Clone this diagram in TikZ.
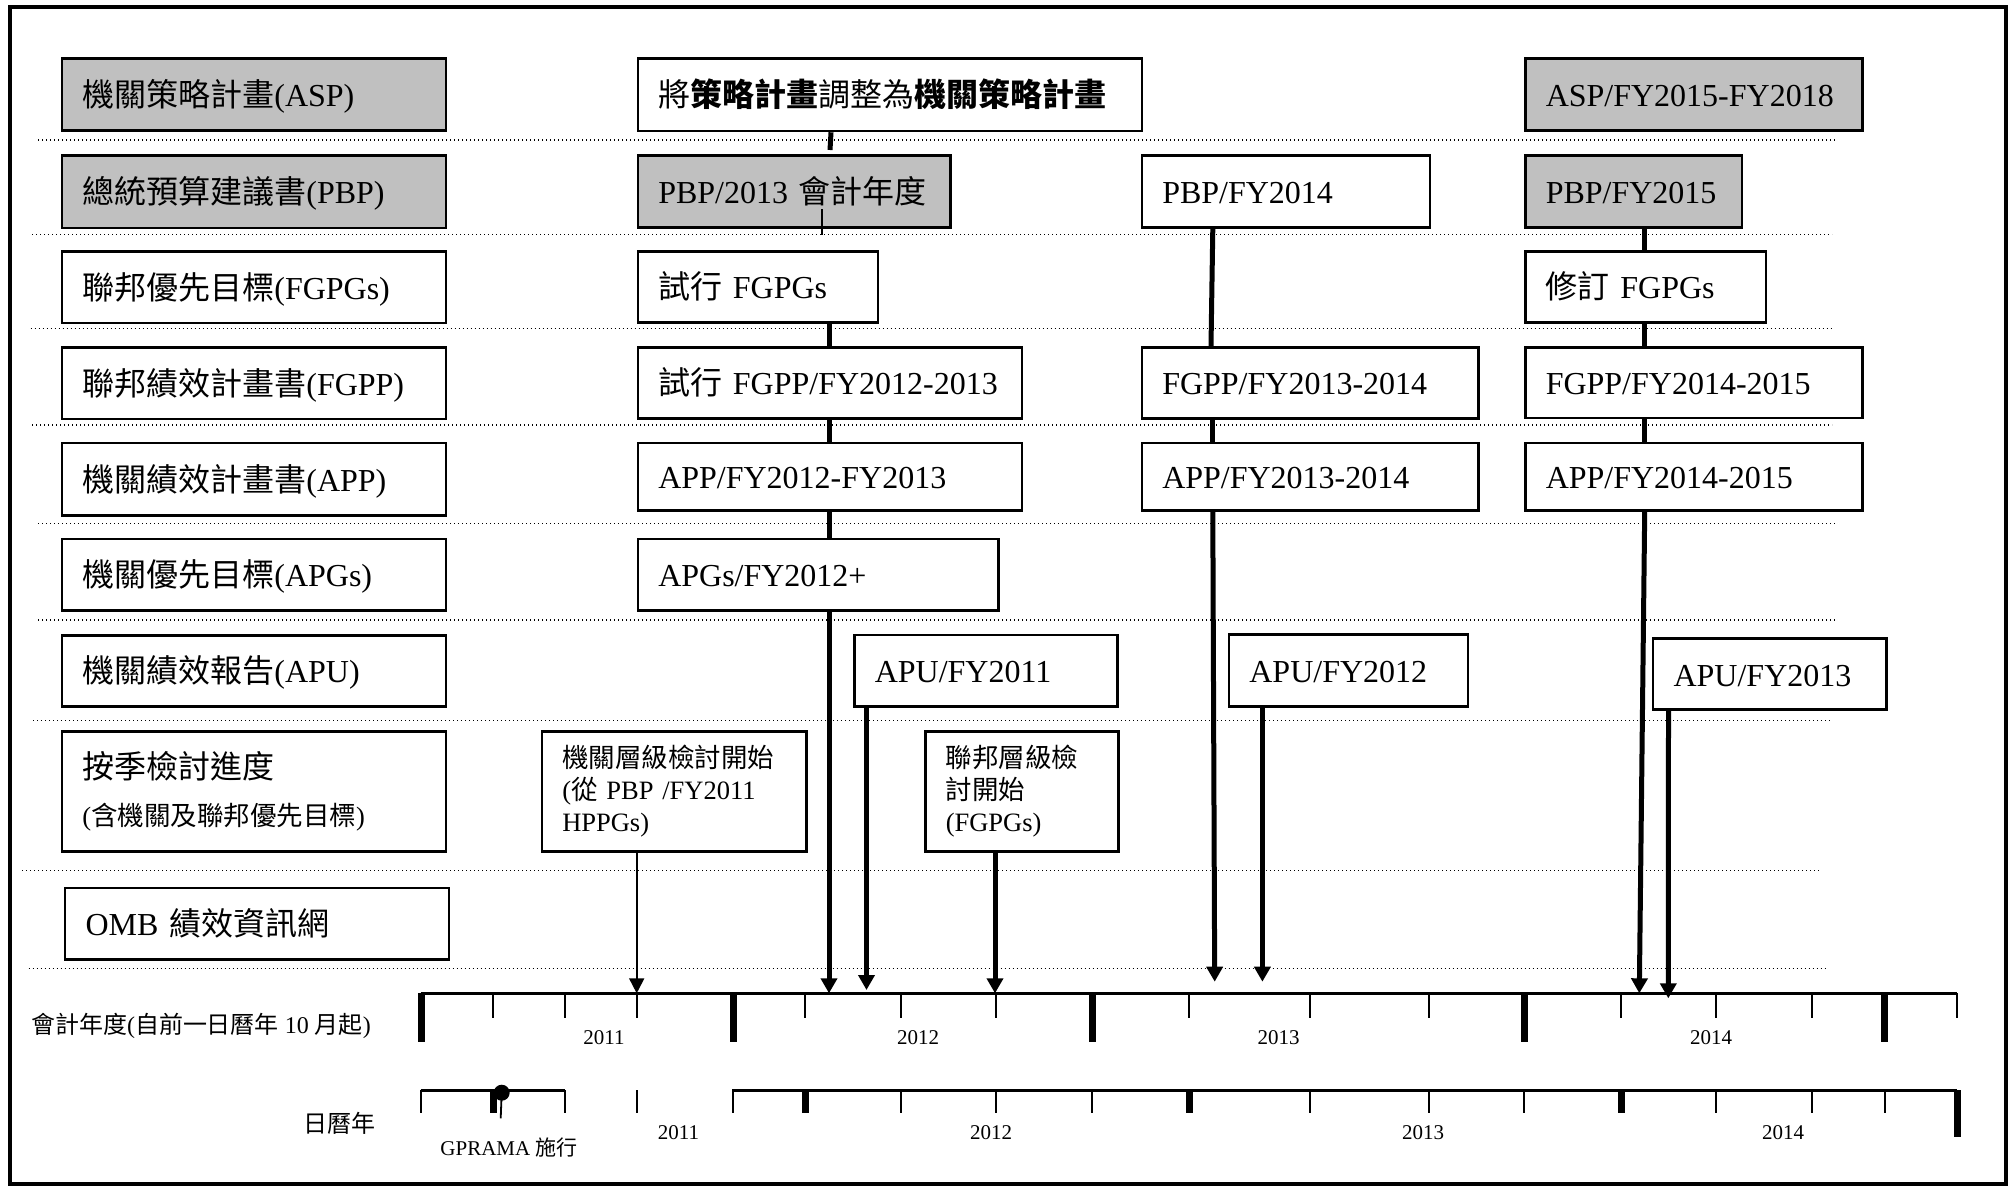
\documentclass[tikz,border=0pt]{standalone}
\usepackage{fontspec}
\setmainfont{Liberation Serif}
\newfontfamily\cjk{Noto Sans CJK TC}
\usetikzlibrary{arrows.meta}
\definecolor{boxgray}{RGB}{192,192,192}
\newcommand\szL{\fontsize{32}{38}\selectfont}
\newcommand\szM{\fontsize{26.5}{32}\selectfont}
\newcommand\szS{\fontsize{21}{25}\selectfont}
\newcommand\szA{\fontsize{24}{28}\selectfont}

\begin{document}
\begin{tikzpicture}[x=1pt,y=-1pt,
  cell/.style={draw, line width=2.5pt, anchor=north west, inner xsep=20.5pt,
    inner ysep=0pt, align=left, font=\szL},
  oneline/.style={text height=30pt, text depth=6pt},
  grayfill/.style={fill=boxgray},
  rowsep/.style={line width=1.3pt, dash pattern=on 1.3pt off 2.7pt},
  link/.style={line width=5pt},
  flow/.style={line width=5pt, -{Triangle[width=16pt,length=15pt]}},
  thinflow/.style={line width=1.8pt, -{Triangle[width=15pt,length=15pt]}},
  tline/.style={line width=3pt},
  tickmin/.style={line width=2pt},
  tickmaj/.style={line width=7pt},
  yearlbl/.style={font=\szS},
]
\useasboundingbox (0,0) rectangle (2011,1187);

% outer frame
\draw[line width=4pt] (10,7) rectangle (2006,1183.5);

% row separators
\draw[rowsep] (38,140) -- (1837,140);
\draw[rowsep] (32,234.3) -- (1832,234.3);
\draw[rowsep] (30.6,328.3) -- (1832,328.3);
\draw[rowsep] (32,425) -- (1832,425);
\draw[rowsep] (38,523.3) -- (1837,523.3);
\draw[rowsep] (38,620) -- (1837,620);
\draw[rowsep] (33,720.7) -- (1832,720.7);
\draw[rowsep] (22,870.7) -- (1820,870.7);
\draw[rowsep] (28.7,968.3) -- (1827,968.3);

% row headings
\node[cell,grayfill,oneline,minimum width=384pt,minimum height=72pt,text width=343pt] (lasp) at (60.6,57.3) {{\cjk 機關策略計畫}(ASP)};
\node[cell,grayfill,oneline,minimum width=384pt,minimum height=72.7pt,text width=343pt] (lpbp) at (60.6,154) {{\cjk 總統預算建議書}(PBP)};
\node[cell,oneline,minimum width=384pt,minimum height=71.7pt,text width=343pt] (lfgpg) at (60.6,250) {{\cjk 聯邦優先目標}(FGPGs)};
\node[cell,oneline,minimum width=384pt,minimum height=71.5pt,text width=343pt] (lfgpp) at (60.6,346) {{\cjk 聯邦績效計畫書}(FGPP)};
\node[cell,oneline,minimum width=384pt,minimum height=72.3pt,text width=343pt] (lapp) at (60.6,441.7) {{\cjk 機關績效計畫書}(APP)};
\node[cell,oneline,minimum width=384pt,minimum height=71.6pt,text width=343pt] (lapg) at (60.6,537.7) {{\cjk 機關優先目標}(APGs)};
\node[cell,oneline,minimum width=384pt,minimum height=71pt,text width=343pt] (lapu) at (60.6,634) {{\cjk 機關績效報告}(APU)};
\node[cell,minimum width=384pt,minimum height=120pt,text width=343pt] (lqtr) at (60.6,730) {{\cjk 按季檢討進度}\\[9pt]{\szM ({\cjk 含機關及聯邦優先目標})}};
\node[cell,oneline,minimum width=384pt,minimum height=71.6pt,text width=343pt] (lomb) at (63.8,886.7) {OMB {\cjk 績效資訊網}};

% 2012 column
\node[cell,oneline,minimum width=504pt,minimum height=72.5pt,text width=463pt] (masp) at (636.5,57.3) {{\cjk 將{\bfseries 策略計畫}調整為{\bfseries 機關策略計畫}}};
\node[cell,grayfill,oneline,minimum width=312.5pt,minimum height=72pt,text width=271.5pt] (mpbp) at (636.5,154) {PBP/2013 {\cjk 會計年度}};
\node[cell,oneline,minimum width=240pt,minimum height=71pt,text width=199pt] (mfgpg) at (636.5,250) {{\cjk 試行} FGPGs};
\node[cell,oneline,minimum width=384pt,minimum height=71pt,text width=343pt] (mfgpp) at (636.5,346) {{\cjk 試行} FGPP/FY2012-2013};
\node[cell,oneline,minimum width=384pt,minimum height=67.6pt,text width=343pt] (mapp) at (636.5,441.7) {APP/FY2012-FY2013};
\node[cell,oneline,minimum width=360.5pt,minimum height=71.6pt,text width=319.5pt] (mapg) at (636.5,537.7) {APGs/FY2012+};
\node[cell,oneline,minimum width=263pt,minimum height=71.5pt,text width=222pt] (mapu) at (853,633.5) {APU/FY2011};
\node[cell,font=\szM,minimum width=264.5pt,minimum height=120pt,text width=223.5pt] (mrev) at (540.5,730) {{\cjk 機關層級檢討開始}\\({\cjk 從} PBP /FY2011\\HPPGs)};
\node[cell,font=\szM,minimum width=193pt,minimum height=120pt,text width=152pt] (frev) at (924,730) {{\cjk 聯邦層級檢}\\{\cjk 討開始}\\(FGPGs)};

% 2013 column
\node[cell,oneline,minimum width=288pt,minimum height=72pt,text width=247pt] (npbp) at (1140.5,154) {PBP/FY2014};
\node[cell,oneline,minimum width=336.5pt,minimum height=71pt,text width=295.5pt] (nfgpp) at (1140.5,346) {FGPP/FY2013-2014};
\node[cell,oneline,minimum width=336.5pt,minimum height=67.6pt,text width=295.5pt] (napp) at (1140.5,441.7) {APP/FY2013-2014};
\node[cell,oneline,minimum width=239.2pt,minimum height=71.7pt,text width=198.2pt] (napu) at (1227.6,633.3) {APU/FY2012};

% 2014 column
\node[cell,grayfill,oneline,minimum width=337pt,minimum height=72pt,text width=296pt] (rasp) at (1524,57.3) {ASP/FY2015-FY2018};
\node[cell,grayfill,oneline,minimum width=216.8pt,minimum height=72pt,text width=175.8pt] (rpbp) at (1524,154) {PBP/FY2015};
\node[cell,oneline,minimum width=240.7pt,minimum height=71pt,text width=199.7pt] (rfgpg) at (1524,250) {{\cjk 修訂} FGPGs};
\node[cell,oneline,minimum width=337pt,minimum height=70.7pt,text width=296pt] (rfgpp) at (1524,346) {FGPP/FY2014-2015};
\node[cell,oneline,minimum width=337pt,minimum height=67.6pt,text width=296pt] (rapp) at (1524,441.7) {APP/FY2014-2015};
\node[cell,oneline,minimum width=233.4pt,minimum height=71pt,text width=192.4pt] (rapu) at (1651.8,637.3) {APU/FY2013};

% fiscal-year axis
\coordinate (fa) at (420.7,993.3);
\coordinate (fb) at (1957,993.3);
\draw[tline] (fa) -- (fb);
\foreach \x in {492.7,564.7,636.7,805,900.5,996,1189,1309.5,1428.7,1621,1716.3,1812.4,1956.8}
  \draw[tickmin] (\x,993.3) -- (\x,1018);
\foreach \x in {421,733,1092.2,1524.2,1884.6}
  \draw[tickmaj] (\x,993.3) -- (\x,1041.5);
\node[yearlbl] (fy11) at (604,1038) {2011};
\node[yearlbl] (fy12) at (918,1038) {2012};
\node[yearlbl] (fy13) at (1278.5,1038) {2013};
\node[yearlbl] (fy14) at (1711,1038) {2014};
\node[font=\szA] (fylab) at (201,1026) {{\cjk 會計年度}({\cjk 自前一日曆年} 10 {\cjk 月起})};

% calendar-year axis
\coordinate (ca) at (420.7,1090);
\coordinate (cb) at (565,1090);
\coordinate (cc) at (732,1090);
\coordinate (cd) at (1957,1090);
\draw[tline] (ca) -- (cb);
\draw[tline] (cc) -- (cd);
\foreach \x in {420.7,564.7,636.7,733,900.5,996,1092.2,1309.5,1428.7,1524.2,1716.3,1812.4,1884.6}
  \draw[tickmin] (\x,1090) -- (\x,1113);
\foreach \x in {493,805,1189,1621}
  \draw[tickmaj] (\x,1090) -- (\x,1113);
\draw[tickmaj] (1957,1090) -- (1957,1137);
\node[yearlbl] (cy11) at (678.5,1133) {2011};
\node[yearlbl] (cy12) at (991,1133) {2012};
\node[yearlbl] (cy13) at (1423,1133) {2013};
\node[yearlbl] (cy14) at (1783,1133) {2014};
\node[font=\szA] (cylab) at (339,1123) {{\cjk 日曆年}};

% GPRAMA enactment marker
\coordinate (gdot) at (501.7,1092.7);
\coordinate (gstem) at (500.7,1118.3);
\draw[line width=1.8pt] (gdot) -- (gstem);
\fill (gdot) circle (8);
\node[font=\szS] (gpr) at (509,1148) {GPRAMA {\cjk 施行}};

% connector x positions and free ends
\coordinate (xa) at (829,0);
\coordinate (xa1) at (831,0);
\coordinate (mstub) at (830,150);
\coordinate (mthin1) at (822.3,209.3);
\coordinate (mthin2) at (822.3,234.5);
\coordinate (xb) at (866.5,0);
\coordinate (tb) at (866.5,990);
\coordinate (xq) at (636.7,0);
\coordinate (xr) at (995,0);
\coordinate (xc) at (1212.8,0);
\coordinate (xc2) at (1211,0);
\coordinate (tc) at (1214.7,981.7);
\coordinate (xd) at (1262.4,0);
\coordinate (td) at (1262.4,981.7);
\coordinate (xe) at (1644.7,0);
\coordinate (te) at (1639.3,993.3);
\coordinate (xf) at (1668.5,0);
\coordinate (tf) at (1668.3,998.3);

% 2012 column connectors
\draw[link] (masp.south -| xa1) -- (mstub);
\draw[line width=1.8pt] (mthin1) -- (mthin2);
\draw[link] (mfgpg.south -| xa) -- (mfgpp.north -| xa);
\draw[link] (mfgpp.south -| xa) -- (mapp.north -| xa);
\draw[link] (mapp.south -| xa) -- (mapg.north -| xa);
\draw[flow] (mapg.south -| xa) -- (fa -| xa);
\draw[flow] (mapu.south -| xb) -- (tb);
\draw[thinflow] (mrev.south -| xq) -- (fa -| xq);
\draw[flow] (frev.south -| xr) -- (fa -| xr);

% 2013 column connectors
\draw[link] (npbp.south -| xc) -- (nfgpp.north -| xc2);
\draw[link] (nfgpp.south -| xc) -- (napp.north -| xc);
\draw[flow] (napp.south -| xc) -- (tc);
\draw[flow] (napu.south -| xd) -- (td);

% 2014 column connectors
\draw[link] (rpbp.south -| xe) -- (rfgpg.north -| xe);
\draw[link] (rfgpg.south -| xe) -- (rfgpp.north -| xe);
\draw[link] (rfgpp.south -| xe) -- (rapp.north -| xe);
\draw[flow] (rapp.south -| xe) -- (te);
\draw[flow] (rapu.south -| xf) -- (tf);
\end{tikzpicture}
\end{document}
